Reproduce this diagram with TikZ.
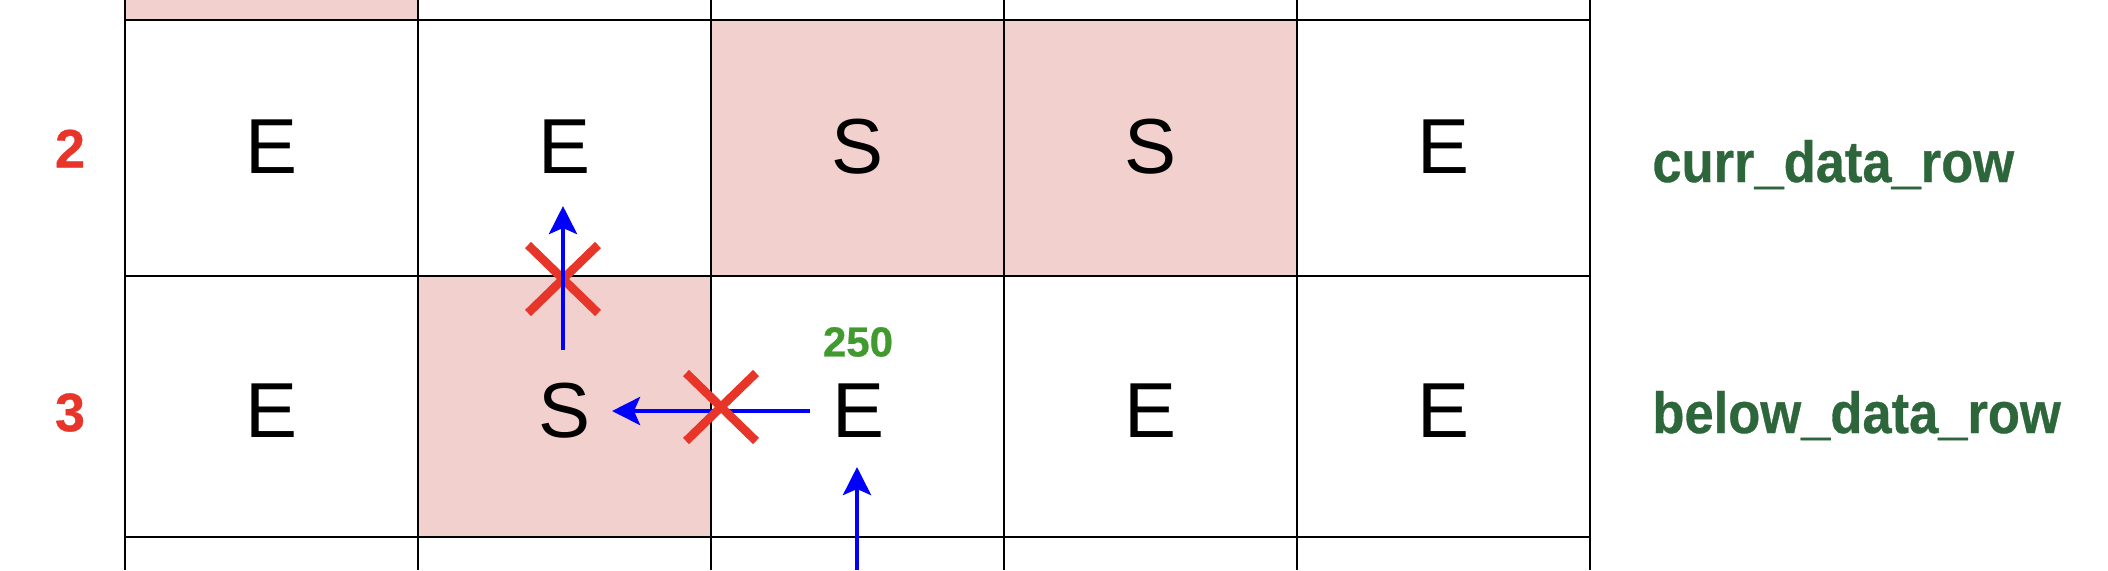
\documentclass[tikz,border=0pt]{standalone}
\usepackage{fontspec}
\usepackage{graphicx}
\setmainfont{Liberation Sans}[BoldFeatures={FakeBold=0.6}]
\usetikzlibrary{arrows.meta}
\definecolor{cellpink}{RGB}{242,208,206}
\definecolor{xred}{RGB}{232,53,42}
\definecolor{arrblue}{RGB}{0,0,255}
\definecolor{lblgreen}{RGB}{44,102,58}
\definecolor{valgreen}{RGB}{64,154,46}
\begin{document}
\begin{tikzpicture}[x=0.5pt,y=-0.5pt,
  gridline/.style={draw=black,line width=1pt},
  letter/.style={font=\fontsize{39}{39}\selectfont,text=black,inner sep=0pt},
  rownum/.style={font=\bfseries\fontsize{27}{27}\selectfont,text=xred,inner sep=0pt},
  rowlabel/.style={font=\bfseries\fontsize{29}{29}\selectfont,text=lblgreen,inner sep=0pt,anchor=base west},
  valtext/.style={font=\bfseries\fontsize{21}{21}\selectfont,text=valgreen,inner sep=0pt},
  flow/.style={draw=arrblue,line width=2.2pt,-{Stealth[length=14pt,width=14pt,inset=3pt]}},
  xbox/.style={inner sep=0pt,outer sep=0pt,minimum width=35pt,minimum height=34pt},
  xstroke/.style={draw=xred,line width=4.3pt}
]
\useasboundingbox (0,0) rectangle (2108,570);
% pink cells
\fill[cellpink] (125,0) rectangle (418,20);
\fill[cellpink] (711,20) rectangle (1297,276);
\fill[cellpink] (418,276) rectangle (711,537);
% grid
\foreach \x in {125,418,711,1004,1297,1590} \draw[gridline] (\x,0) -- (\x,570);
\foreach \y in {20,276,537} \draw[gridline] (125,\y) -- (1590,\y);
% row numbers
\node[rownum] (n2) at (70,148.5) {2};
\node[rownum] (n3) at (70,412.5) {3};
% row 2
\node[letter] (r2c1) at (271.5,147) {E};
\node[letter] (r2c2) at (564.5,147) {E};
\node[letter] (r2c3) at (857.5,147) {S};
\node[letter] (r2c4) at (1150.5,147) {S};
\node[letter] (r2c5) at (1443.5,147) {E};
% row 3
\node[letter] (r3c1) at (271.5,411) {E};
\node[letter] (r3c2) at (564.5,411) {S};
\node[letter] (r3c3) at (859,411) {E};
\node[letter] (r3c4) at (1150.5,411) {E};
\node[letter] (r3c5) at (1443.5,411) {E};
% value
\node[valtext] (v250) at (858,342) {250};
% row labels
\node[rowlabel] (lcurr) at (1652,182) {\scalebox{0.905}[1]{curr\_data\_row}};
\node[rowlabel] (lbelow) at (1652,433) {\scalebox{0.905}[1]{below\_data\_row}};
% arrow coordinates
\coordinate (a1s) at (563,350);
\coordinate (a1e) at (563,206);
\coordinate (a2s) at (810,411);
\coordinate (a2e) at (612,411);
\coordinate (a3s) at (857,570);
\coordinate (a3e) at (857,467);
% cross boxes
\node[xbox] (x1) at (563,279) {};
\node[xbox] (x2) at (721,407) {};
% left arrow lies under its cross
\draw[flow] (a2s) -- (a2e);
\draw[xstroke] (x2.north west) -- (x2.south east);
\draw[xstroke] (x2.north east) -- (x2.south west);
% upper cross lies under its arrow
\draw[xstroke] (x1.north west) -- (x1.south east);
\draw[xstroke] (x1.north east) -- (x1.south west);
\draw[flow] (a1s) -- (a1e);
\draw[flow] (a3s) -- (a3e);
\end{tikzpicture}
\end{document}
